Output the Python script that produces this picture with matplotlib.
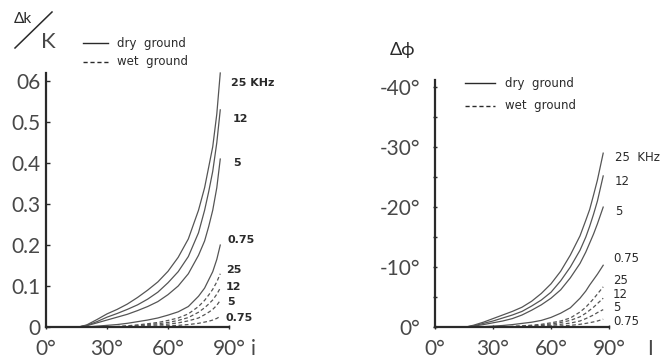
import matplotlib
matplotlib.use("Agg")
import matplotlib.pyplot as plt
from matplotlib.lines import Line2D
from matplotlib.ticker import FuncFormatter, MultipleLocator

plt.rcParams['font.family'] = ['Lato', 'DejaVu Sans']

# ---- data ----
# left panel: relative amplitude change dk/K vs incidence angle i
ang_k = [16, 20, 25, 30, 35, 40, 45, 50, 55, 60, 65, 70, 75, 78, 80, 82, 84, 85.7]
dry_k = {
    '25': [0, 0.005, 0.018, 0.032, 0.043, 0.056, 0.072, 0.09, 0.11, 0.136, 0.17, 0.215, 0.285, 0.34, 0.39, 0.44, 0.52, 0.62],
    '12': [0, 0.004, 0.013, 0.024, 0.033, 0.043, 0.054, 0.068, 0.085, 0.108, 0.135, 0.172, 0.23, 0.285, 0.33, 0.38, 0.45, 0.53],
    '5': [0, 0.003, 0.01, 0.017, 0.024, 0.031, 0.04, 0.05, 0.062, 0.079, 0.10, 0.13, 0.175, 0.21, 0.245, 0.285, 0.34, 0.41],
    '0.75': [0, 0.0, 0.002, 0.004, 0.006, 0.009, 0.013, 0.017, 0.022, 0.029, 0.037, 0.05, 0.075, 0.095, 0.115, 0.135, 0.165, 0.2],
}
wet_k = {
    '25': [0, 0, 0, 0, 0.001, 0.003, 0.005, 0.008, 0.011, 0.016, 0.022, 0.032, 0.05, 0.065, 0.078, 0.092, 0.11, 0.13],
    '12': [0, 0, 0, 0, 0.001, 0.002, 0.004, 0.006, 0.008, 0.011, 0.016, 0.023, 0.036, 0.047, 0.056, 0.066, 0.08, 0.095],
    '5': [0, 0, 0, 0, 0, 0.001, 0.002, 0.004, 0.005, 0.007, 0.01, 0.015, 0.022, 0.03, 0.036, 0.043, 0.053, 0.065],
    '0.75': [0, 0, 0, 0, 0, 0, 0.001, 0.001, 0.002, 0.003, 0.004, 0.006, 0.009, 0.012, 0.014, 0.017, 0.021, 0.026],
}
# right panel: phase change (degrees) vs incidence angle
ang_p = [16, 20, 25, 30, 35, 40, 45, 50, 55, 60, 65, 70, 75, 78, 80, 82, 84, 87]
dry_p = {
    '25': [0, -0.3, -0.8, -1.4, -2.0, -2.6, -3.3, -4.3, -5.6, -7.2, -9.3, -12.0, -15.2, -17.8, -19.6, -22.0, -24.5, -29.0],
    '12': [0, -0.2, -0.6, -1.0, -1.5, -2.0, -2.6, -3.5, -4.5, -5.8, -7.7, -10.0, -12.8, -15.0, -16.8, -18.8, -21.0, -25.2],
    '5': [0, -0.15, -0.4, -0.7, -1.0, -1.4, -2.0, -2.8, -3.7, -4.8, -6.2, -8.2, -10.6, -12.5, -14.0, -15.5, -17.2, -20.0],
    '0.75': [0, 0, -0.05, -0.15, -0.25, -0.4, -0.6, -0.8, -1.1, -1.6, -2.3, -3.2, -4.8, -6.0, -7.0, -7.9, -8.8, -10.3],
}
wet_p = {
    '25': [0, 0, 0, 0, -0.05, -0.1, -0.2, -0.3, -0.45, -0.7, -1.0, -1.5, -2.5, -3.3, -4.0, -4.7, -5.5, -6.7],
    '12': [0, 0, 0, 0, -0.03, -0.07, -0.13, -0.2, -0.33, -0.5, -0.75, -1.1, -1.7, -2.3, -2.8, -3.3, -3.9, -4.8],
    '5': [0, 0, 0, 0, -0.02, -0.05, -0.1, -0.15, -0.22, -0.3, -0.45, -0.65, -1.0, -1.4, -1.7, -2.0, -2.4, -2.9],
    '0.75': [0, 0, 0, 0, 0, 0, -0.02, -0.05, -0.08, -0.12, -0.18, -0.27, -0.45, -0.6, -0.72, -0.85, -1.0, -1.3],
}
freqs = ['25', '12', '5', '0.75']
x_ticks = [0, 30, 60, 90]
k_ticks = [0, 0.1, 0.2, 0.3, 0.4, 0.5, 0.6]
k_tick_labels = ['0', '0.1', '0.2', '0.3', '0.4', '0.5', '06']
p_ticks = [0, -10, -20, -30, -40]

ink = '#2a2a2a'
big = '#484848'
curve = '#555555'
small_font = ['DejaVu Sans']
W, H = 670, 363

fig = plt.figure(figsize=(6.7, 3.63), dpi=100)


def px(x, y):
    return x / W, 1 - y / H


def style_axes(ax):
    for s in ('top', 'right'):
        ax.spines[s].set_visible(False)
    for s in ('left', 'bottom'):
        ax.spines[s].set_linewidth(1.6)
        ax.spines[s].set_color(ink)
    ax.set_xlim(0, 90)
    ax.set_xticks(x_ticks, labels=[f'{t}°' for t in x_ticks])
    ax.tick_params(axis='x', length=3, width=1, direction='inout', pad=7,
                   labelsize=15, colors=ink, labelcolor=big)


# ---- left panel ----
axl = fig.add_axes([46 / W, 1 - 327 / H, (229 - 46) / W, (327 - 73) / H])
style_axes(axl)
axl.set_ylim(0, 0.62)
axl.set_yticks(k_ticks, labels=k_tick_labels)
axl.tick_params(axis='y', length=3, width=1, direction='in', pad=4,
                labelsize=15, colors=ink, labelcolor=big)
for f in freqs:
    axl.plot(ang_k, dry_k[f], color=curve, lw=0.9, clip_on=False)
    axl.plot(ang_k, wet_k[f], color=curve, lw=0.9, ls=(0, (3, 2)), clip_on=False)

lab_k = [('25 KHz', 91, 0.595), ('12', 92, 0.507), ('5', 92, 0.40), ('0.75', 89.5, 0.212),
         ('25', 88.5, 0.139), ('12', 88.5, 0.098), ('5', 89, 0.061), ('0.75', 88.5, 0.022)]
for t, x, y in lab_k:
    axl.text(x, y, t, fontsize=8, fontweight='bold', color=ink, va='center',
             ha='left', clip_on=False, family=small_font)

# ---- right panel ----
axr = fig.add_axes([435 / W, 1 - 327 / H, (609 - 435) / W, (327 - 80) / H])
style_axes(axr)
axr.set_ylim(0, -41.2)
axr.set_yticks(p_ticks)
axr.yaxis.set_major_formatter(FuncFormatter(lambda v, p: f'{v:.0f}°'))
axr.yaxis.set_minor_locator(MultipleLocator(5))
axr.tick_params(axis='y', which='both', length=3, width=1, direction='inout',
                pad=9, labelsize=15, colors=ink, labelcolor=big)
for f in freqs:
    axr.plot(ang_p, dry_p[f], color=curve, lw=0.9, clip_on=False)
    axr.plot(ang_p, wet_p[f], color=curve, lw=0.9, ls=(0, (3, 2)), clip_on=False)

lab_p = [('25  KHz', 93, -28.3), ('12', 93, -24.2), ('5', 93, -19.2), ('0.75', 92, -11.5),
         ('25', 92, -7.8), ('12', 92, -5.5), ('5', 92, -3.3), ('0.75', 92, -1.0)]
for t, x, y in lab_p:
    axr.text(x, y, t, fontsize=8.5, color=ink, va='center', ha='left', clip_on=False,
             family=small_font)

# ---- axis titles ----
fig.text(*px(23, 19), 'Δk', fontsize=11, color=ink, ha='center', va='center')
fig.add_artist(Line2D([15 / W, 52 / W], [1 - 48 / H, 1 - 12 / H], color=ink, lw=1.1))
fig.text(*px(48, 42), 'K', fontsize=16, color=big, ha='center', va='center')
fig.text(*px(402, 50), 'Δϕ', fontsize=13, color=ink, ha='center', va='center')
fig.text(*px(253, 349), 'i', fontsize=15, color=big, ha='center', va='center')
fig.text(*px(650, 349), 'I', fontsize=15, color=big, ha='center', va='center')

# ---- hand-drawn legends ----
def legend(x0, x1, xt, y_dry, y_wet):
    fig.add_artist(Line2D([x0 / W, x1 / W], [1 - y_dry / H] * 2, color=ink, lw=1))
    fig.add_artist(Line2D([x0 / W, x1 / W], [1 - y_wet / H] * 2, color=ink, lw=1,
                          ls=(0, (3, 2))))
    fig.text(*px(xt, y_dry), 'dry  ground', fontsize=8.5, color=ink, va='center',
             family=small_font)
    fig.text(*px(xt, y_wet), 'wet  ground', fontsize=8.5, color=ink, va='center',
             family=small_font)


legend(83, 108, 117, 43, 62)
legend(465, 495, 505, 83, 106)

fig.savefig('out.png', dpi=100)
